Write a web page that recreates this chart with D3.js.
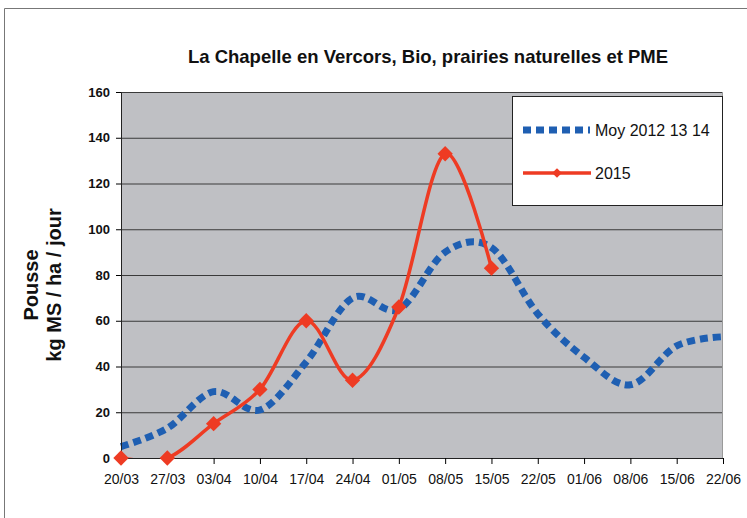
<!DOCTYPE html>
<html>
<head>
<meta charset="utf-8">
<script src="https://cdn.jsdelivr.net/npm/d3@7"></script>
<style>
  body { margin: 0; background: #fff; }
  svg { font-family: "Liberation Sans", Arial, sans-serif; }
</style>
</head>
<body>
<svg width="747" height="518"></svg>
<script>
// categories (semaines)
const dates = ['20/03', '27/03', '03/04', '10/04', '17/04', '24/04', '01/05', '08/05',
  '15/05', '22/05', '01/06', '08/06', '15/06', '22/06'];
// moyenne 2012-2014
const moyValues = [5, 13, 29, 21, 42, 70, 65, 90, 92, 63, 44, 32, 49, 53];
// 2015 (stops at 15/05)
const values2015 = [0, 0, 15, 30, 60, 34, 66, 133, 83];
const yTicks = [0, 20, 40, 60, 80, 100, 120, 140, 160];

const svg = d3.select('svg');
const margin = { left: 121, right: 24, top: 92, bottom: 60 };
const width = 747 - margin.left - margin.right;
const height = 518 - margin.top - margin.bottom;

// outer frame
svg.append('path').attr('d', 'M4.5,518 V8.5 H747').attr('fill', 'none')
  .attr('stroke', '#777').attr('stroke-width', 1);

const x = d3.scalePoint().domain(dates).range([0, width]);
const y = d3.scaleLinear().domain([0, 160]).range([height, 0]);

const g = svg.append('g').attr('transform', 'translate(' + margin.left + ',' + margin.top + ')');

svg.append('defs').append('clipPath').attr('id', 'plot')
  .append('rect').attr('x', -10).attr('y', -10).attr('width', width + 20).attr('height', height + 10);

// plot background
g.append('rect').attr('width', width).attr('height', height).attr('fill', '#bfc0c4');

// gridlines
g.selectAll('line.grid').data(yTicks.slice(1)).enter().append('line')
  .attr('class', 'grid')
  .attr('x1', 0).attr('x2', width)
  .attr('y1', d => y(d) + 0.5).attr('y2', d => y(d) + 0.5)
  .attr('stroke', '#3a3a3a').attr('stroke-width', 1);
g.append('line').attr('x1', width - 0.5).attr('x2', width - 0.5).attr('y1', 0).attr('y2', height)
  .attr('stroke', '#9a9a9a');

// lines (smoothed like excel)
const line = d3.line().x((d, i) => x(dates[i])).y(d => y(d)).curve(d3.curveCatmullRom.alpha(0));
const lines = g.append('g').attr('clip-path', 'url(#plot)');
lines.append('path').datum(moyValues).attr('d', line)
  .attr('fill', 'none').attr('stroke', '#1f5fb2').attr('stroke-width', 7)
  .attr('stroke-dasharray', '8,5');
lines.append('path').datum(values2015).attr('d', line)
  .attr('fill', 'none').attr('stroke', '#ee3b23').attr('stroke-width', 3.5);

// axes
const yAxis = g.append('g').call(d3.axisLeft(y).tickValues(yTicks).tickSize(5).tickPadding(6));
yAxis.select('.domain').attr('stroke', '#222');
yAxis.selectAll('text').attr('font-size', 13).attr('font-weight', 'bold').attr('fill', '#111');

const xAxis = g.append('g').attr('transform', 'translate(0,' + height + ')')
  .call(d3.axisBottom(x).tickSize(6).tickPadding(10));
xAxis.select('.domain').attr('stroke', '#222');
xAxis.selectAll('text').attr('font-size', 14).attr('fill', '#111');

// 2015 markers
const diamond = d3.symbol().type(d3.symbolDiamond2).size(150);
g.selectAll('path.pt').data(values2015).enter().append('path')
  .attr('class', 'pt')
  .attr('transform', (d, i) => 'translate(' + x(dates[i]) + ',' + y(d) + ')')
  .attr('d', diamond).attr('fill', '#ee3b23');

// title
svg.append('text').attr('x', 428).attr('y', 63).attr('text-anchor', 'middle')
  .attr('font-size', 18.5).attr('font-weight', 'bold').attr('fill', '#111')
  .text('La Chapelle en Vercors, Bio, prairies naturelles et PME');

// y label
const ylab = svg.append('text').attr('transform', 'translate(0,285) rotate(-90)')
  .attr('text-anchor', 'middle').attr('font-size', 20).attr('font-weight', 'bold').attr('fill', '#111');
ylab.append('tspan').attr('x', 0).attr('y', 38).text('Pousse');
ylab.append('tspan').attr('x', 0).attr('y', 61).text('kg MS / ha / jour');

// legend
const lg = svg.append('g').attr('transform', 'translate(512,96)');
lg.append('rect').attr('x', 0.5).attr('y', 0.5).attr('width', 210).attr('height', 109)
  .attr('fill', '#fff').attr('stroke', '#222');
lg.append('line').attr('x1', 11).attr('x2', 78).attr('y1', 34).attr('y2', 34)
  .attr('stroke', '#1f5fb2').attr('stroke-width', 7).attr('stroke-dasharray', '8,5');
lg.append('text').attr('x', 83).attr('y', 40).attr('font-size', 16).attr('fill', '#111').text('Moy 2012 13 14');
lg.append('line').attr('x1', 11).attr('x2', 79).attr('y1', 77).attr('y2', 77)
  .attr('stroke', '#ee3b23').attr('stroke-width', 3.5);
lg.append('path').attr('transform', 'translate(45,77)').attr('d', d3.symbol().type(d3.symbolDiamond2).size(60))
  .attr('fill', '#ee3b23');
lg.append('text').attr('x', 83).attr('y', 83).attr('font-size', 16).attr('fill', '#111').text('2015');
</script>
</body>
</html>
